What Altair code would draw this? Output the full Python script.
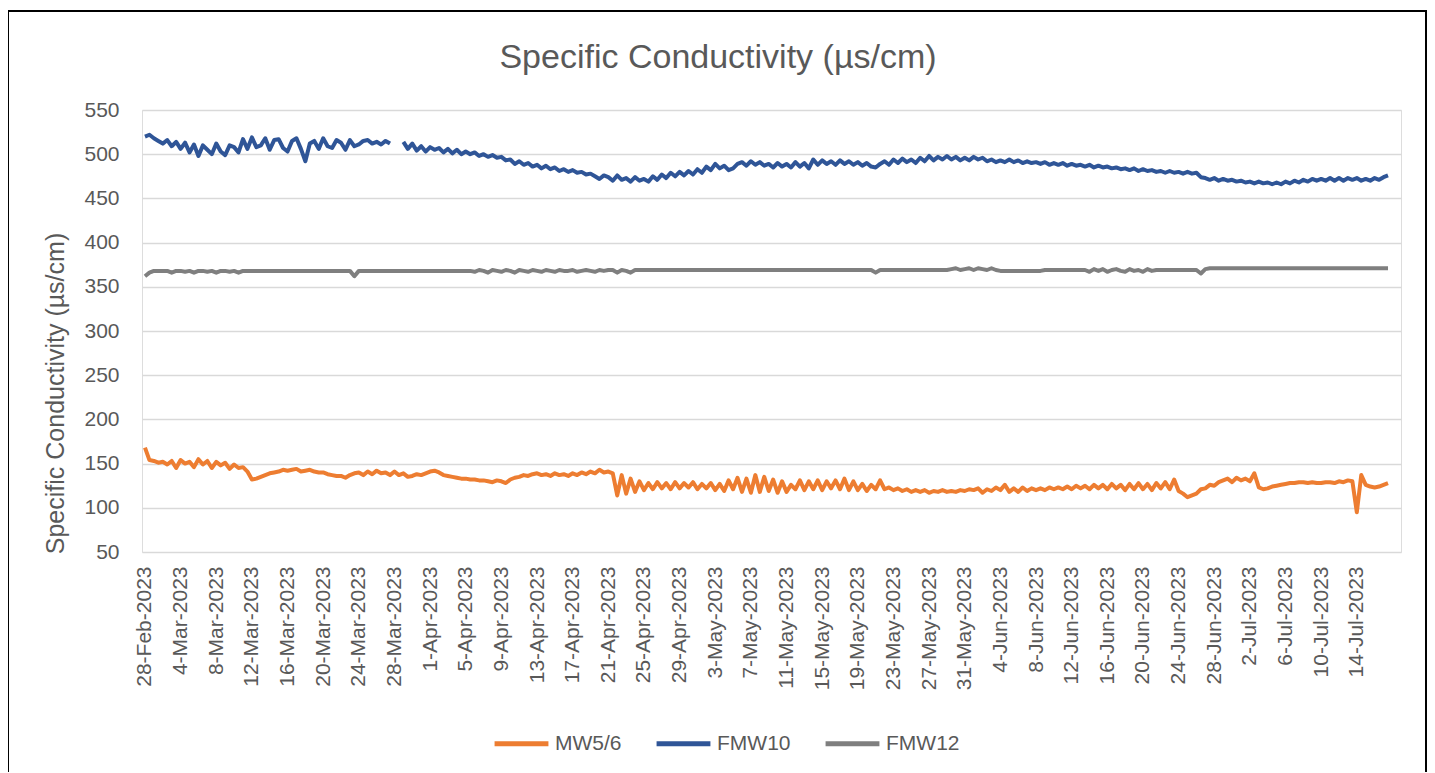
import altair as alt
import pandas as pd

series_names = ["MW5/6", "FMW10", "FMW12"]
series_colors = ["#ED7D31", "#2F5597", "#7F7F7F"]
first_sample = "2023-02-28T00:00"   # readings every 12 h

# MW5/6 (two readings per day, day 0 = 28-Feb)
mw56 = [
    168, 154, 153, 151, 152, 149, 153, 145, 154, 150,   # d0-4
    152, 146, 155, 149, 153, 145, 152, 148, 151, 144,   # d5-9
    149, 145, 146, 141, 132, 133, 135, 137, 139, 140,   # d10-14
    141, 143, 142, 143, 144, 141, 142, 143, 141, 140,   # d15-19
    140, 138, 137, 136, 136, 134, 137, 139, 140, 137,   # d20-24
    141, 138, 142, 139, 140, 137, 141, 137, 139, 135,   # d25-29
    136, 138, 137, 139, 141, 142, 140, 137, 136, 135,   # d30-34
    134, 133, 133, 132, 132, 131, 131, 130, 129, 131,   # d35-39
    130, 128, 132, 134, 135, 137, 136, 138, 139, 137,   # d40-44
    138, 136, 139, 137, 138, 136, 139, 137, 140, 138,   # d45-49
    141, 139, 143, 140, 141, 139, 114, 137, 116, 133,   # d50-54
    118, 130, 120, 128, 121, 129, 122, 128, 121, 129,   # d55-59
    122, 128, 123, 129, 121, 127, 122, 128, 120, 127,   # d60-64
    119, 131, 121, 134, 118, 133, 117, 137, 118, 135,   # d65-69
    119, 132, 117, 130, 118, 126, 121, 131, 120, 130,   # d70-74
    121, 131, 120, 130, 122, 131, 121, 133, 120, 130,   # d75-79
    120, 127, 119, 126, 121, 131, 121, 123, 120, 122,   # d80-84
    119, 121, 118, 120, 118, 120, 117, 119, 118, 120,   # d85-89
    118, 119, 118, 120, 119, 121, 120, 122, 117, 121,   # d90-94
    119, 123, 120, 126, 118, 122, 118, 123, 119, 122,   # d95-99
    120, 122, 120, 123, 121, 123, 121, 124, 121, 125,   # d100-104
    122, 125, 121, 126, 122, 126, 121, 127, 122, 126,   # d105-109
    120, 127, 121, 128, 121, 127, 120, 128, 122, 129,   # d110-114
    121, 132, 119, 116, 112, 114, 116, 121, 122, 126,   # d115-119
    125, 129, 131, 133, 129, 134, 131, 133, 130, 139,   # d120-124
    123, 121, 122, 124, 125, 126, 127, 128, 128, 129,   # d125-129
    129, 128, 129, 128, 128, 129, 129, 128, 130, 129,   # d130-134
    131, 130, 95, 137, 126, 124, 123, 124, 126, 128,    # d135-139
]

# FMW10
fmw10 = [
    520, 522, 518, 515, 512, 516, 509, 514, 506, 513,   # d0-4
    502, 511, 498, 510, 505, 500, 512, 503, 499, 510,   # d5-9
    508, 502, 517, 506, 519, 508, 510, 518, 505, 516,   # d10-14
    517, 507, 503, 515, 518, 506, 492, 512, 515, 506,   # d15-19
    518, 509, 507, 516, 513, 505, 516, 509, 511, 515,   # d20-24
    516, 512, 514, 511, 515, 512, None, None, 514, 506, # d25-29
    512, 504, 509, 503, 508, 505, 507, 502, 506, 501,   # d30-34
    505, 500, 503, 500, 502, 498, 500, 497, 499, 496,   # d35-39
    497, 493, 494, 489, 492, 488, 490, 486, 488, 484,   # d40-44
    487, 483, 485, 481, 483, 480, 482, 479, 480, 477,   # d45-49
    478, 475, 472, 476, 474, 470, 476, 471, 473, 469,   # d50-54
    474, 470, 472, 469, 475, 471, 477, 473, 479, 475,   # d55-59
    480, 476, 481, 477, 483, 479, 486, 482, 489, 484,   # d60-64
    487, 482, 484, 489, 491, 487, 492, 488, 491, 487,   # d65-69
    489, 485, 490, 486, 489, 485, 491, 486, 490, 484,   # d70-74
    494, 488, 493, 489, 492, 488, 493, 489, 492, 488,   # d75-79
    491, 487, 490, 486, 485, 489, 492, 488, 494, 490,   # d80-84
    495, 491, 494, 490, 496, 492, 498, 493, 497, 494,   # d85-89
    498, 494, 497, 493, 496, 493, 497, 494, 496, 492,   # d90-94
    494, 491, 493, 491, 494, 491, 493, 490, 492, 490,   # d95-99
    491, 489, 491, 488, 490, 488, 490, 487, 489, 487,   # d100-104
    488, 486, 488, 485, 487, 485, 486, 484, 485, 483,   # d105-109
    484, 482, 484, 481, 483, 481, 482, 480, 481, 479,   # d110-114
    481, 479, 480, 478, 480, 478, 479, 474, 473, 471,   # d115-119
    473, 470, 472, 470, 471, 469, 470, 468, 469, 467,   # d120-124
    469, 467, 468, 466, 468, 466, 469, 467, 470, 468,   # d125-129
    471, 469, 472, 470, 472, 470, 473, 470, 473, 470,   # d130-134
    473, 471, 473, 470, 472, 470, 473, 471, 474, 476,   # d135-139
]

# FMW12
fmw12 = [
    362, 366, 368, 368, 368, 368, 366, 368, 368, 367,   # d0-4
    368, 366, 368, 368, 367, 368, 366, 368, 368, 367,   # d5-9
    368, 366, 368, 368, 368, 368, 368, 368, 368, 368,   # d10-14
    368, 368, 368, 368, 368, 368, 368, 368, 368, 368,   # d15-19
    368, 368, 368, 368, 368, 368, 368, 362, 368, 368,   # d20-24
    368, 368, 368, 368, 368, 368, 368, 368, 368, 368,   # d25-29
    368, 368, 368, 368, 368, 368, 368, 368, 368, 368,   # d30-34
    368, 368, 368, 368, 367, 369, 368, 366, 369, 368,   # d35-39
    367, 369, 368, 366, 369, 368, 367, 369, 368, 367,   # d40-44
    369, 368, 367, 369, 368, 368, 369, 367, 368, 369,   # d45-49
    368, 367, 369, 368, 369, 369, 366, 369, 368, 366,   # d50-54
    369, 369, 369, 369, 369, 369, 369, 369, 369, 369,   # d55-59
    369, 369, 369, 369, 369, 369, 369, 369, 369, 369,   # d60-64
    369, 369, 369, 369, 369, 369, 369, 369, 369, 369,   # d65-69
    369, 369, 369, 369, 369, 369, 369, 369, 369, 369,   # d70-74
    369, 369, 369, 369, 369, 369, 369, 369, 369, 369,   # d75-79
    369, 369, 369, 369, 366, 369, 369, 369, 369, 369,   # d80-84
    369, 369, 369, 369, 369, 369, 369, 369, 369, 369,   # d85-89
    369, 370, 371, 369, 370, 371, 369, 371, 370, 369,   # d90-94
    371, 369, 368, 368, 368, 368, 368, 368, 368, 368,   # d95-99
    368, 368, 369, 369, 369, 369, 369, 369, 369, 369,   # d100-104
    369, 369, 367, 370, 368, 370, 367, 369, 370, 368,   # d105-109
    367, 370, 368, 369, 367, 370, 368, 369, 369, 369,   # d110-114
    369, 369, 369, 369, 369, 369, 369, 365, 370, 371,   # d115-119
    371, 371, 371, 371, 371, 371, 371, 371, 371, 371,   # d120-124
    371, 371, 371, 371, 371, 371, 371, 371, 371, 371,   # d125-129
    371, 371, 371, 371, 371, 371, 371, 371, 371, 371,   # d130-134
    371, 371, 371, 371, 371, 371, 371, 371, 371, 371,   # d135-139
]

tick_dates = [
    "2023-02-28", "2023-03-04", "2023-03-08", "2023-03-12", "2023-03-16",
    "2023-03-20", "2023-03-24", "2023-03-28", "2023-04-01", "2023-04-05",
    "2023-04-09", "2023-04-13", "2023-04-17", "2023-04-21", "2023-04-25",
    "2023-04-29", "2023-05-03", "2023-05-07", "2023-05-11", "2023-05-15",
    "2023-05-19", "2023-05-23", "2023-05-27", "2023-05-31", "2023-06-04",
    "2023-06-08", "2023-06-12", "2023-06-16", "2023-06-20", "2023-06-24",
    "2023-06-28", "2023-07-02", "2023-07-06", "2023-07-10", "2023-07-14",
]
x_domain = ["2023-02-27T16:00", "2023-07-18T23:00"]
y_ticks = [50, 100, 150, 200, 250, 300, 350, 400, 450, 500, 550]

title_text = "Specific Conductivity (µs/cm)"
FONT = "Liberation Sans"
GREY = "#595959"
GRID = "#d9d9d9"

times = pd.date_range(first_sample, periods=len(fmw10), freq="12h").strftime("%Y-%m-%dT%H:%M")
rows = []
for name, vals in zip(series_names, [mw56, fmw10, fmw12]):
    for t, v in zip(times, vals):
        rows.append({"time": t, "value": v, "series": name})
df = pd.DataFrame(rows)


def dt(s):
    d = pd.Timestamp(s)
    return alt.DateTime(year=d.year, month=d.month, date=d.day, hours=d.hour, minutes=d.minute)


lines = alt.Chart(df).mark_line(strokeWidth=4, strokeJoin="round").encode(
    x=alt.X(
        "time:T",
        scale=alt.Scale(domain=[dt(s) for s in x_domain]),
        axis=alt.Axis(
            values=[dt(s) for s in tick_dates],
            format="%-d-%b-%Y",
            labelAngle=270,
            labelFontSize=21,
            labelFont=FONT,
            labelColor=GREY,
            labelPadding=14,
            labelOverlap=False,
            labelFlush=False,
            ticks=False,
            domain=False,
            grid=False,
            title=None,
        ),
    ),
    y=alt.Y(
        "value:Q",
        scale=alt.Scale(domain=[50, 550], nice=False, zero=False),
        axis=alt.Axis(
            values=y_ticks,
            grid=True,
            gridColor=GRID,
            gridWidth=1.5,
            domain=False,
            ticks=False,
            labelFontSize=21,
            labelFont=FONT,
            labelColor=GREY,
            labelPadding=23,
            title=title_text,
            titleFont=FONT,
            titleFontSize=25,
            titleFontWeight="normal",
            titleColor=GREY,
            titleX=-87,
            titleY=283,
            titleAngle=270,
            titleAlign="center",
            titleBaseline="middle",
        ),
    ),
    color=alt.Color(
        "series:N",
        scale=alt.Scale(domain=series_names, range=series_colors),
        legend=alt.Legend(
            orient="none",
            legendX=350,
            legendY=604,
            direction="horizontal",
            title=None,
            symbolType="stroke",
            symbolSize=2900,
            symbolStrokeWidth=5,
            labelFontSize=21,
            labelFont=FONT,
            labelColor=GREY,
            labelOffset=4,
            columnPadding=24,
        ),
    ),
    order=alt.Order("time:T"),
)

one_row = pd.DataFrame({"k": [0]})

frame = alt.Chart(one_row).mark_rect(
    filled=False, stroke="black", strokeWidth=2
).encode(
    x=alt.value(-134), x2=alt.value(1284), y=alt.value(-99), y2=alt.value(700)
)

title = alt.Chart(one_row).mark_text(
    font=FONT, fontSize=34, color=GREY, align="center", baseline="middle"
).encode(
    x=alt.value(576), y=alt.value(-52), text=alt.value(title_text)
)

chart = alt.layer(frame, title, lines).properties(
    width=1259,
    height=442,
    padding={"left": 134, "top": 102, "right": 26, "bottom": 220},
    autosize=alt.AutoSizeParams(type="none"),
).configure_view(stroke=None).configure(background="white")

chart.save("out.html", embed_options={"renderer": "svg", "actions": False})
